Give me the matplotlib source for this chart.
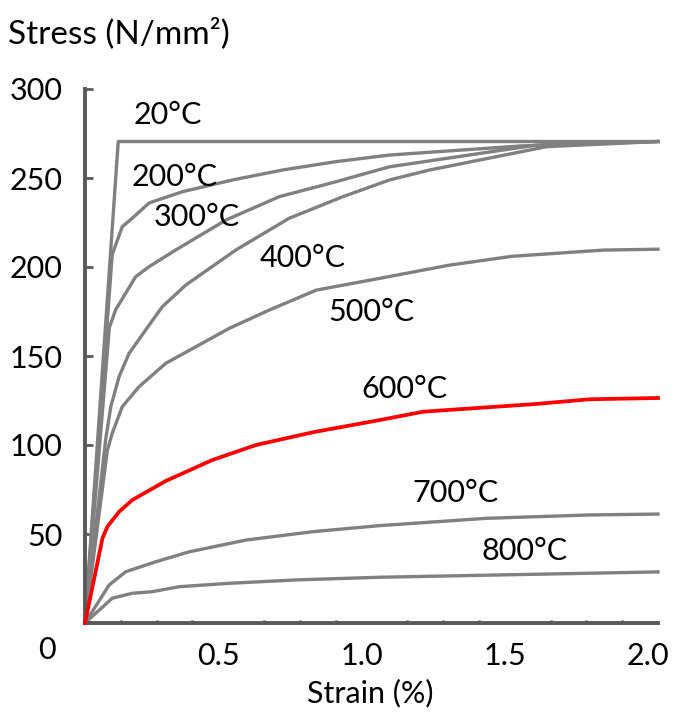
import matplotlib
matplotlib.use("Agg")
import matplotlib.pyplot as plt
import matplotlib.transforms as mtransforms
from matplotlib.ticker import FixedLocator

plt.rcParams['font.family'] = ['Lato', 'DejaVu Sans']

# strain (%) / stress (N/mm2)
strain_20 = [0, 0.116, 2.0]
stress_20 = [0, 270.5, 270.5]

strain_200 = [0, 0.095, 0.13, 0.171, 0.224, 0.34, 0.515, 0.69, 0.876, 1.063, 1.52, 2.0]
stress_200 = [0, 207, 222.6, 228.3, 236, 242.3, 248.9, 254.5, 259.2, 262.9, 268, 270.5]

strain_300 = [0, 0.085, 0.107, 0.177, 0.224, 0.317, 0.492, 0.678, 0.876, 1.063, 1.576, 2.0]
stress_300 = [0, 166, 176, 194.6, 200.2, 209.6, 226.4, 239.5, 247.9, 256.3, 268.5, 270.5]

strain_400 = [0, 0.072, 0.09, 0.119, 0.154, 0.224, 0.27, 0.352, 0.527, 0.713, 0.90, 1.063, 1.203, 1.611, 2.0]
stress_400 = [0, 103, 121.5, 138.4, 151.5, 167.4, 177.7, 189.9, 209.6, 227.4, 239.5, 248.9, 254.5, 267.6, 270.5]

strain_500 = [0, 0.078, 0.095, 0.13, 0.189, 0.282, 0.387, 0.503, 0.643, 0.807, 1.028, 1.27, 1.49, 1.81, 2.0]
stress_500 = [0, 97, 106.6, 121.5, 132.8, 145.9, 155.2, 165.5, 175.8, 187, 193.6, 201, 206, 209.5, 210]

strain_600 = [0, 0.061, 0.078, 0.119, 0.165, 0.282, 0.445, 0.597, 0.8, 1.028, 1.18, 1.57, 1.762, 2.0]
stress_600 = [0, 47.6, 54.1, 62.5, 69.1, 79.8, 91.6, 100, 107.3, 114, 118.7, 123, 125.7, 126.4]

strain_700 = [0, 0.084, 0.142, 0.247, 0.364, 0.562, 0.795, 1.028, 1.40, 1.762, 2.0]
stress_700 = [0, 21.3, 28.8, 34.4, 40, 46.6, 51.3, 54.7, 58.8, 60.7, 61.2]

strain_800 = [0, 0.095, 0.165, 0.235, 0.329, 0.503, 0.737, 1.028, 1.448, 2.0]
stress_800 = [0, 13.9, 16.7, 17.6, 20.4, 22.3, 24.2, 25.7, 27, 28.7]

curve_labels = ['20°C', '200°C', '300°C', '400°C', '500°C', '600°C', '700°C', '800°C']
label_x = [0.171, 0.164, 0.241, 0.608, 0.85, 0.965, 1.143, 1.385]
label_y = [285.4, 250.8, 228.3, 204.8, 174.7, 131.7, 72.8, 40.2]

x_ticks = [0.5, 1.0, 1.5, 2.0]
x_tick_labels = ['0.5', '1.0', '1.5', '2.0']
y_ticks = [50, 100, 150, 200, 250, 300]

GREY = '#808080'
AXIS = '#595959'
FS = 22

fig = plt.figure(figsize=(6.76, 7.17), dpi=100)
ax = fig.add_axes([85 / 676, 1 - 623 / 717, 573 / 676, 534 / 717])

grey_curves = [(strain_20, stress_20), (strain_200, stress_200), (strain_300, stress_300),
               (strain_400, stress_400), (strain_500, stress_500),
               (strain_700, stress_700), (strain_800, stress_800)]
for xs, ys in grey_curves:
    ax.plot(xs, ys, color=GREY, lw=2.4, solid_joinstyle='round', clip_on=False)
ax.plot(strain_600, stress_600, color='#ff0000', lw=2.7, solid_joinstyle='round',
        clip_on=False, zorder=3)

for txt, lx, ly in zip(curve_labels, label_x, label_y):
    ax.text(lx, ly, txt, fontsize=FS, ha='left', va='center', color='black')

ax.set_xlim(0, 2.0)
ax.set_ylim(0, 300)

for s in ['top', 'right']:
    ax.spines[s].set_visible(False)
for s in ['left', 'bottom']:
    ax.spines[s].set_color(AXIS)
    ax.spines[s].set_linewidth(2.8)

ax.set_yticks(y_ticks)
ax.set_yticklabels([str(v) for v in y_ticks])
ax.tick_params(axis='y', direction='in', length=6, width=2, color=AXIS,
               labelsize=FS, pad=16)

ax.set_xticks(x_ticks)
ax.set_xticklabels(x_tick_labels)
ax.xaxis.set_minor_locator(FixedLocator([0.125 * k for k in range(1, 16)]))
ax.tick_params(axis='x', which='major', length=0, labelsize=FS, pad=14)
ax.tick_params(axis='x', which='minor', direction='in', length=2, width=2, color=AXIS)

shift = mtransforms.ScaledTranslation(-10 / 100, 0, fig.dpi_scale_trans)
for lab in ax.get_xticklabels():
    lab.set_transform(lab.get_transform() + shift)

fig.text(47 / 676, 1 - 650 / 717, '0', fontsize=FS, ha='center', va='center')
fig.text(370 / 676, 1 - 693 / 717, 'Strain (%)', fontsize=FS, ha='center', va='center')
fig.text(8 / 676, 1 - 33 / 717, 'Stress (N/mm²)', fontsize=24, ha='left', va='center')

fig.savefig('out.png', dpi=100)
